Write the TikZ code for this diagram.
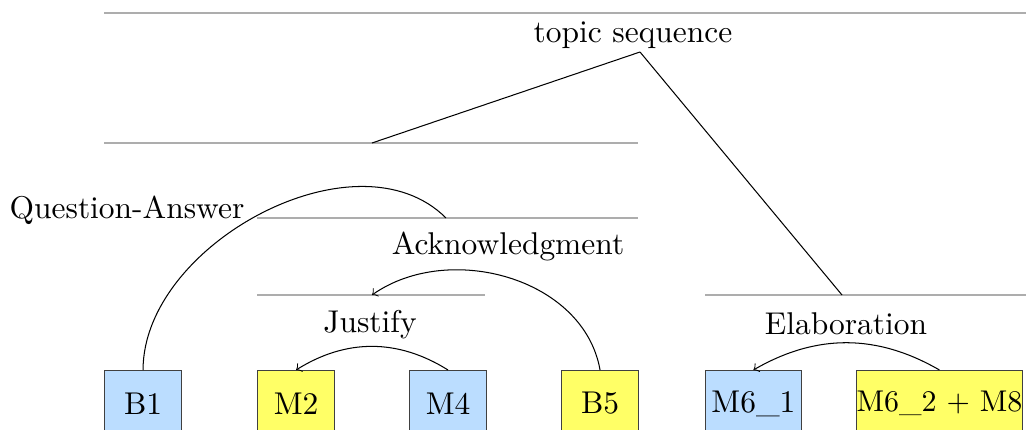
\documentclass[tikz,border=0pt]{standalone}
\usetikzlibrary{arrows}
\usetikzlibrary{positioning}

\definecolor{edublue}{RGB}{187,221,255}
\definecolor{eduyellow}{RGB}{255,255,102}

\begin{document}
\begin{tikzpicture}[x=0.34pt,y=-0.34pt,->,line width=0.35pt,
                    every node/.style={font=\fontsize{10.7pt}{12pt}\selectfont},
                    edu node/.style={rectangle,draw=black!75,anchor=north west,
                                     minimum height=22.4pt,minimum width=26.2pt,
                                     inner sep=2pt},
                    span line/.style={-,draw=black!32,line width=0.55pt},
                    rel node/.style={inner sep=0pt}]

  \useasboundingbox (0,0) rectangle (1026,430);

  % span lines
  \draw[span line] (104,13) -- (1026,13);
  \draw[span line] (104,143) -- (638,143);
  \draw[span line] (257,218) -- (638,218);
  \draw[span line] (257,295) -- (485,295);
  \draw[span line] (705,295) -- (1026,295);

  % relation labels
  \node[rel node] (topic) at (633,35) {topic sequence};
  \node[rel node] (qa) at (127,210) {Question-Answer};
  \node[rel node] (ack) at (508,246) {Acknowledgment};
  \node[rel node] (just) at (370,325) {Justify};
  \node[rel node] (elab) at (846,324) {Elaboration};

  \coordinate (topic foot) at (640,52);
  \coordinate (left span) at (372,143);
  \coordinate (right span) at (842,295);
  \coordinate (qa span) at (446,218);
  \coordinate (ack span) at (372,295);

  % elementary units
  \node[edu node,fill=edublue] (B1) at (104,370) {B1};
  \node[edu node,fill=eduyellow] (M2) at (257,370) {M2};
  \node[edu node,fill=edublue] (M4) at (409,370) {M4};
  \node[edu node,fill=eduyellow] (B5) at (561,370) {B5};
  \node[edu node,fill=edublue,minimum width=30.6pt] (M61) at (705,370) {M6\_1};
  \node[edu node,fill=eduyellow,inner sep=0pt,minimum width=56.4pt,
        font=\fontsize{10.2pt}{12pt}\selectfont] (M62) at (856,370) {M6\_2 + M8};

  \path[-]
    (topic foot) edge (left span)
                 edge (right span)
    (B1.north) edge [out=90,in=135,looseness=0.95] (qa span);

  \path
    (B5.north) edge [out=100,in=35] (ack span)
    (M4.north) edge [bend right=32] (M2.north)
    (M62.north) edge [bend right=30] (M61.north)
;
\end{tikzpicture}
\end{document}
